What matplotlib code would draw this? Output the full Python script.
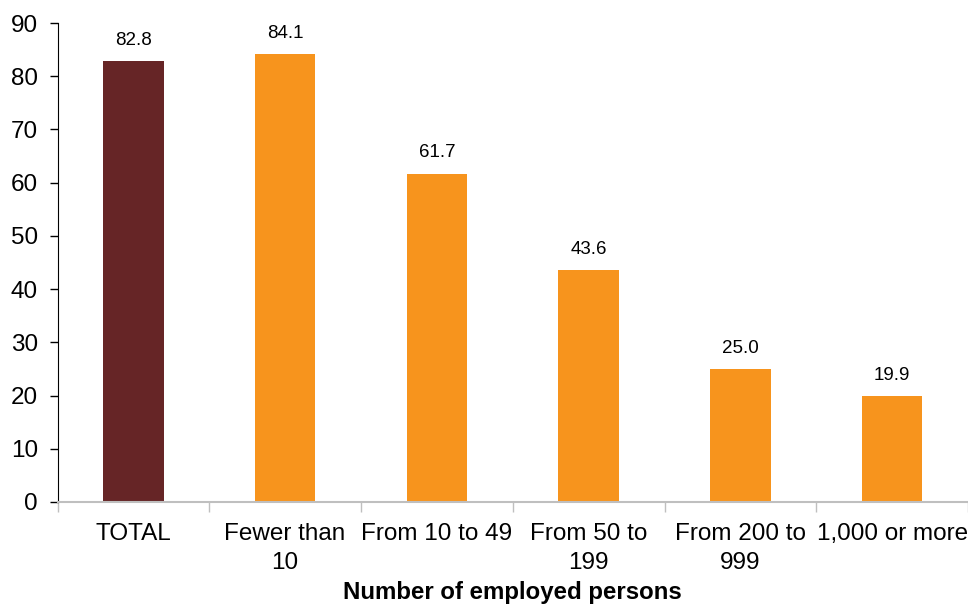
import matplotlib.pyplot as plt
import numpy as np

plt.rcParams['font.family'] = ['Liberation Sans', 'DejaVu Sans']

categories = ["TOTAL", "Fewer than\n10", "From 10 to 49", "From 50 to\n199",
              "From 200 to\n999", "1,000 or more"]
values = [82.8, 84.1, 61.7, 43.6, 25.0, 19.9]
colors = ["#662526", "#F7941D", "#F7941D", "#F7941D", "#F7941D", "#F7941D"]

fig = plt.figure(figsize=(9.68, 6.06), dpi=100)
ax = fig.add_axes([57.5 / 968, 1 - 502 / 606, 1 - 57.5 / 968, (502 - 23) / 606])

x = np.arange(len(categories))
bars = ax.bar(x, values, width=0.4, color=colors)

for xi, v in zip(x, values):
    ax.text(xi, v + 2.3, f"{v:.1f}", ha="center", va="bottom", fontsize=13.5)

ax.set_xlim(-0.5, len(categories) - 0.5)
ax.set_ylim(0, 90)
ax.set_yticks(range(0, 91, 10))
ax.tick_params(axis="y", labelsize=17.5, length=6, width=1, color="black", pad=8)

# category labels centred under bars, separator ticks between categories
ax.set_xticks(x)
ax.set_xticklabels(categories, fontsize=17.5, linespacing=1.4)
ax.tick_params(axis="x", which="major", length=0, pad=15)
ax.set_xticks(np.arange(-0.5, len(categories)), minor=True)
ax.tick_params(axis="x", which="minor", length=7, width=1, color="#BFBFBF")

for side in ["top", "right"]:
    ax.spines[side].set_visible(False)
ax.spines["left"].set_color("black")
ax.spines["bottom"].set_color("#BFBFBF")
ax.spines["bottom"].set_linewidth(1.5)

fig.text(0.5 + 57.5 / 968 / 2, 1 - 593 / 606, "Number of employed persons",
         ha="center", va="center", fontsize=17.3, fontweight="bold")

fig.savefig("out.png", dpi=100)
